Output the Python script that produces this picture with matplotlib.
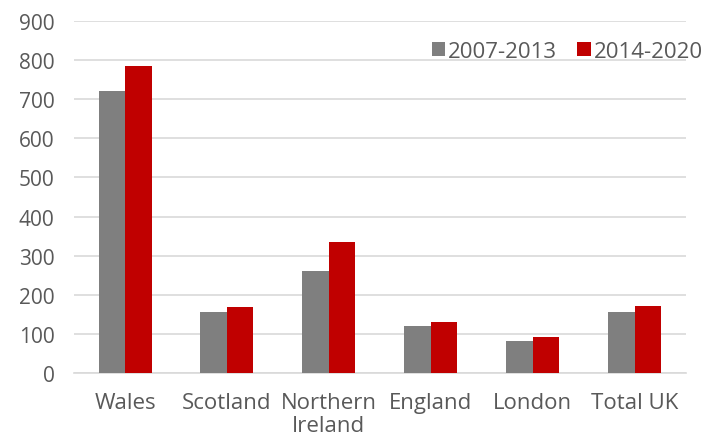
import numpy as np
import matplotlib
matplotlib.use('Agg')
import matplotlib.pyplot as plt

regions = ['Wales', 'Scotland', 'Northern\nIreland', 'England', 'London', 'Total UK']
period_1 = [721, 155, 260, 120, 81, 155]
period_2 = [786, 168, 336, 130, 91, 172]
series_names = ['2007-2013', '2014-2020']
yticks = [0, 100, 200, 300, 400, 500, 600, 700, 800, 900]

plt.rcParams['font.family'] = ['Open Sans', 'DejaVu Sans']
text_col = '#595959'

fig = plt.figure(figsize=(7.12, 4.39), dpi=100)
ax = fig.add_axes([0.104, 0.148, 0.859, 0.802])

x = np.arange(len(regions))
w = 0.26
ax.bar(x - w / 2, period_1, w, color='#7f7f7f', label=series_names[0], zorder=3)
ax.bar(x + w / 2, period_2, w, color='#c00000', label=series_names[1], zorder=3)

ax.set_xlim(-0.5, len(regions) - 0.5)
ax.set_ylim(0, 900)
ax.set_yticks(yticks)
ax.yaxis.grid(True, color='#d9d9d9', linewidth=1.2, zorder=0)
ax.set_axisbelow(True)

for s in ['left', 'right', 'top']:
    ax.spines[s].set_visible(False)
ax.spines['bottom'].set_color('#d9d9d9')
ax.spines['bottom'].set_linewidth(1.2)

ax.set_xticks(x)
ax.set_xticklabels(regions, linespacing=1.1)
ax.tick_params(axis='both', length=0, colors=text_col)
ax.tick_params(axis='y', pad=14, labelsize=15)
ax.tick_params(axis='x', pad=14, labelsize=16)

fig.legend(loc='center right', bbox_to_anchor=(1.0, 0.88), ncol=2, frameon=False,
           fontsize=16, labelcolor=text_col, handlelength=0.6, handleheight=0.6,
           handletextpad=0.15, columnspacing=0.9, borderaxespad=0.0)

fig.savefig('out.png', dpi=100)
